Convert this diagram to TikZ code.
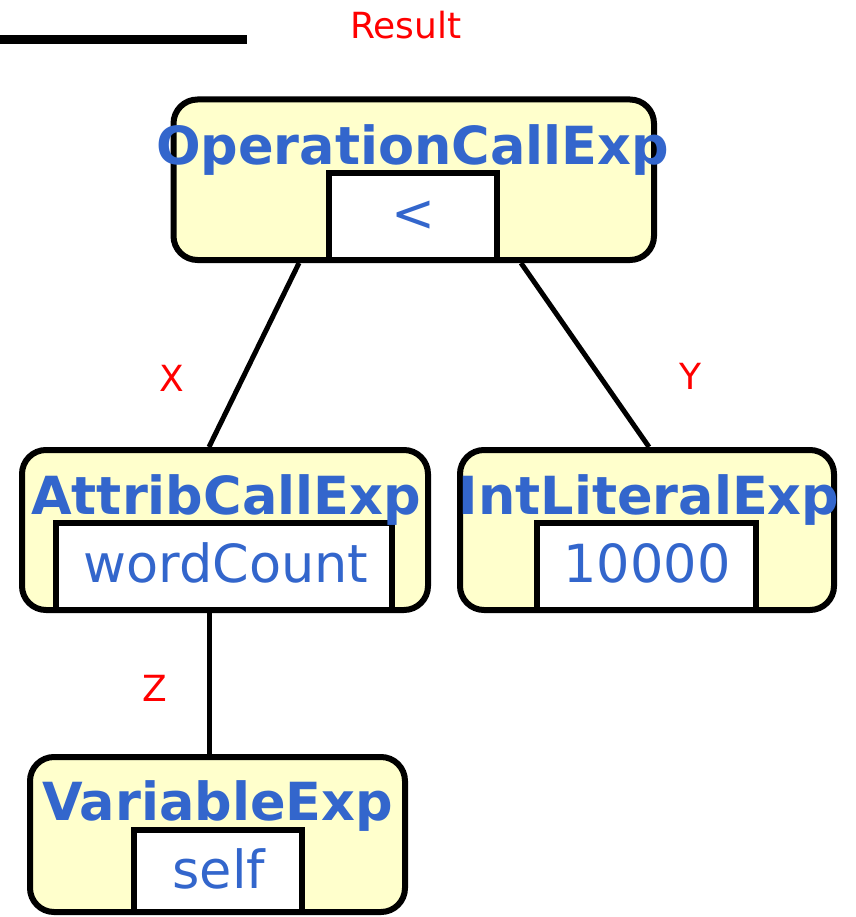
\documentclass[tikz,border=0pt]{standalone}
\usepackage{fontspec}
\setmainfont{DejaVu Sans}
\usetikzlibrary{calc}
\definecolor{tblue}{HTML}{3366CC}
\definecolor{tyellow}{HTML}{FFFFCC}
\definecolor{tred}{HTML}{FF0000}
\tikzset{
 outerbox/.style={draw, line width=6pt, fill=tyellow, rounded corners=24pt, inner sep=0pt},
 innerbox/.style={draw, line width=6pt, fill=white, inner sep=0pt},
 titletext/.style={text=tblue, font=\fontsize{52.5}{60}\selectfont\bfseries, inner sep=0pt, anchor=base},
 valtext/.style={text=tblue, font=\fontsize{52.5}{60}\selectfont, inner sep=0pt, anchor=base},
 redlabel/.style={text=tred, font=\fontsize{36}{40}\selectfont, inner sep=0pt},
 edgeline/.style={line width=5pt},
}
\begin{document}
\begin{tikzpicture}[x=1pt,y=-1pt]
\useasboundingbox (0,0) rectangle (855,917);
\coordinate (barL) at (0,39.5);
\coordinate (barR) at (247,39.5);
\draw[line width=9pt] (barL) -- (barR);
\node[redlabel] (result) at (406,25) {Result};

% boxes
\node[outerbox, minimum width=480.5pt, minimum height=160.5pt] (op) at (413.75,179.75) {};
\node[innerbox, minimum width=168pt, minimum height=87pt] (opv) at (413,216.5) {};
\node[titletext] (opt) at (412.5,165) {OperationCallExp};
\node[valtext] (opvt) at (413,232) {<};

\node[outerbox, minimum width=406pt, minimum height=160pt] (attr) at (225,530) {};
\node[innerbox, minimum width=336pt, minimum height=87pt] (attrv) at (224,566.5) {};
\node[titletext] (attrt) at (226,514) {AttribCallExp};
\node[valtext] (attrvt) at (226,582) {wordCount};

\node[outerbox, minimum width=374pt, minimum height=160pt] (lit) at (647,530) {};
\node[innerbox, minimum width=219pt, minimum height=87pt] (litv) at (646.5,566.5) {};
\node[titletext] (litt) at (649,514) {IntLiteralExp};
\node[valtext] (litvt) at (647,582) {10000};

\node[outerbox, minimum width=375pt, minimum height=155pt] (var) at (217.5,834.5) {};
\node[innerbox, minimum width=168pt, minimum height=82.5pt] (varv) at (218,870.75) {};
\node[titletext] (vart) at (217.5,820) {VariableExp};
\node[valtext] (varvt) at (219,888) {self};

% connectors
\draw[edgeline] ($(op.south west)+(128.5,0)$) -- ($(attr.north west)+(190,0)$);
\draw[edgeline] ($(op.south west)+(350.5,0)$) -- ($(lit.north west)+(192,0)$);
\draw[edgeline] ($(attr.south west)+(190,0)$) -- ($(var.north west)+(182,0)$);

\node[redlabel] (lx) at (172,378) {X};
\node[redlabel] (ly) at (690,376) {Y};
\node[redlabel] (lz) at (155,688) {Z};
\end{tikzpicture}
\end{document}
